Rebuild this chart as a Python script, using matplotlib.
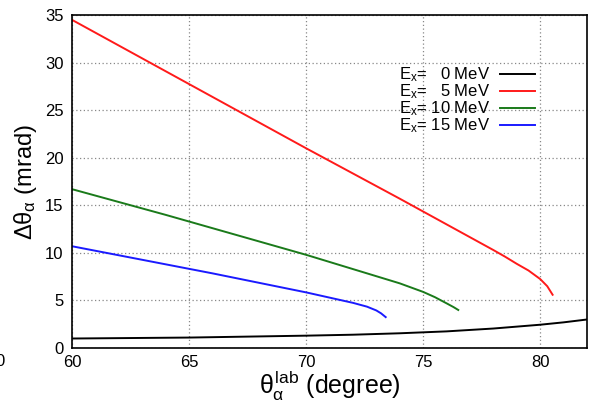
import matplotlib.pyplot as plt
from matplotlib.lines import Line2D

plt.rcParams['font.family'] = ['Liberation Sans', 'DejaVu Sans']
plt.rcParams['mathtext.fontset'] = 'custom'
plt.rcParams['mathtext.rm'] = 'Liberation Sans'
plt.rcParams['mathtext.it'] = 'Liberation Sans'
plt.rcParams['mathtext.bf'] = 'Liberation Sans:bold'

# Ex = 0 MeV
x0 = [60, 65, 70, 72, 74, 76, 78, 80, 81, 82]
y0 = [1.0, 1.1, 1.3, 1.4, 1.55, 1.75, 2.05, 2.45, 2.7, 3.0]
# Ex = 5 MeV
x5 = [60, 62, 64, 66, 68, 70, 72, 74, 76, 77, 78, 78.5, 79, 79.5, 80, 80.3, 80.53]
y5 = [34.5, 31.8, 29.1, 26.4, 23.7, 21.0, 18.35, 15.7, 13.0, 11.65, 10.3, 9.6, 8.85, 8.15, 7.25, 6.5, 5.6]
# Ex = 10 MeV
x10 = [60, 62, 64, 66, 68, 70, 72, 74, 75, 75.5, 76.0, 76.3, 76.5]
y10 = [16.7, 15.35, 14.0, 12.6, 11.2, 9.8, 8.3, 6.8, 5.9, 5.35, 4.7, 4.3, 4.0]
# Ex = 15 MeV
x15 = [60, 62, 64, 66, 68, 70, 71, 72, 72.6, 73.0, 73.2, 73.4]
y15 = [10.7, 9.75, 8.8, 7.85, 6.85, 5.85, 5.3, 4.75, 4.35, 3.95, 3.65, 3.25]

labels = ["E$_\\mathregular{x}$=\u2007 0 MeV",
          "E$_\\mathregular{x}$=\u2007 5 MeV",
          "E$_\\mathregular{x}$= 10 MeV",
          "E$_\\mathregular{x}$= 15 MeV"]
colors = ["black", "#ff1a1a", "#1a7a1a", "#1a1aff"]

fig = plt.figure(figsize=(5.92, 4.08), dpi=100)
ax = fig.add_axes([0.1216, 0.147, 0.870, 0.816])

for xs, ys, c in zip([x0, x5, x10, x15], [y0, y5, y10, y15], colors):
    ax.plot(xs, ys, color=c, lw=1.4)

ax.set_xlim(60, 82)
ax.set_ylim(0, 35)
ax.set_xticks([60, 65, 70, 75, 80])
ax.set_yticks([0, 5, 10, 15, 20, 25, 30, 35])
ax.grid(True, color="#888888", linestyle=(0, (1, 2)), lw=0.9)
ax.tick_params(length=0, labelsize=12)
ax.tick_params(axis='x', pad=5)
ax.tick_params(axis='y', pad=6)
for s in ax.spines.values():
    s.set_linewidth(1.2)

ax.set_xlabel(r"$\theta_\alpha^{lab}$ (degree)", fontsize=18, labelpad=-1)
ax.set_ylabel(r"$\Delta\theta_\alpha$ (mrad)", fontsize=17, labelpad=4)

handles = [Line2D([], [], color=c, lw=1.4) for c in colors]
leg = ax.legend(handles, labels, loc="upper right", bbox_to_anchor=(0.922, 0.884),
                frameon=False, markerfirst=False, fontsize=12, handlelength=2.1,
                labelspacing=-0.1, handletextpad=0.6, borderpad=0.2)
for t in leg.get_texts():
    t.set_ha('right')

fig.text(5 / 592, 0.113, "0", ha="right", va="center", fontsize=12)

fig.savefig("out.png", dpi=100)
